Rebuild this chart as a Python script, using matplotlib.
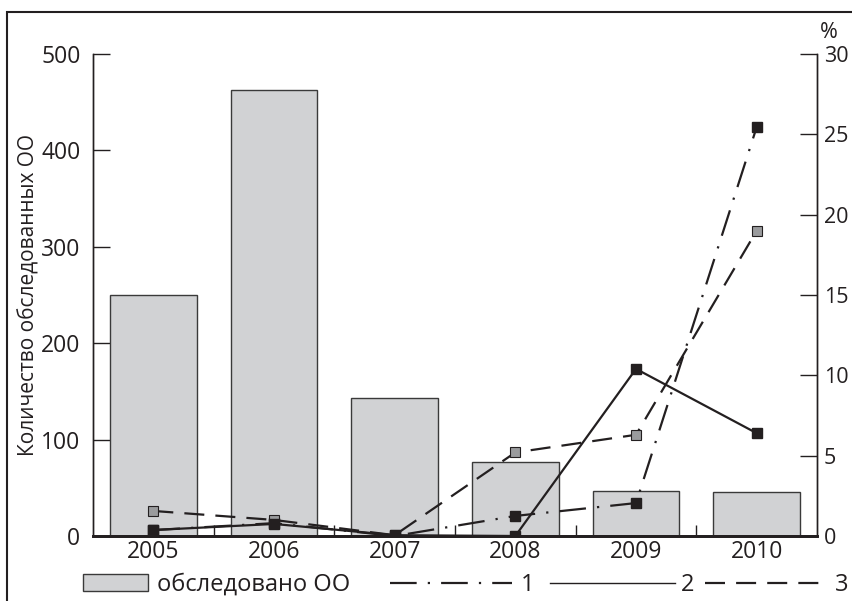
import matplotlib
matplotlib.use("Agg")
import matplotlib.pyplot as plt
import numpy as np
from matplotlib.patches import Rectangle
from matplotlib.lines import Line2D

plt.rcParams['font.family'] = ['Open Sans', 'DejaVu Sans']

years = ['2005', '2006', '2007', '2008', '2009', '2010']
surveyed = [250, 463, 143, 77, 47, 46]
series1 = [0.37, 0.8, 0.0, 1.25, 2.05, 25.45]
series2 = [0.37, 0.75, 0.05, 0.0, 10.4, 6.4]
series3 = [1.56, 1.0, 0.05, 5.2, 6.3, 19.0]
bar_label = 'обследовано ОО'
line_labels = ['1', '2', '3']
ylabel_left = 'Количество обследованных ОО'

FS = 16.5
FS_R = 15.5
FS_LEG = 17
FS_YL = 15
INK = '#231f20'

fig = plt.figure(figsize=(8.52, 6.01), dpi=100)
ax = fig.add_axes([93/852, 1-536/601, (817-93)/852, (536-54)/601])
ax2 = ax.twinx()

x = np.arange(len(years))
bars = ax.bar(x, surveyed, width=0.72, color='#d1d2d4', edgecolor='#3a3a3a', linewidth=1.0, zorder=2)
ax.set_xlim(-0.5, len(years) - 0.5)
ax.set_ylim(0, 500)
ax.set_yticks([0, 100, 200, 300, 400, 500])
ax.set_xticks(x)
ax.set_xticklabels(years, fontsize=FS)
ax.set_xticks(np.arange(0.5, len(years) - 1, 1), minor=True)
ax.tick_params(axis='x', which='major', length=0, pad=3, colors=INK)
ax.tick_params(axis='x', which='minor', direction='in', length=8, width=1.0, color=INK)
ax.tick_params(axis='y', direction='in', length=12, width=1.0, labelsize=FS, pad=9, colors=INK)
ax.set_ylabel(ylabel_left, fontsize=FS_YL, color=INK, labelpad=1)

ax2.set_ylim(0, 30)
ax2.set_yticks([0, 5, 10, 15, 20, 25, 30])
ax2.tick_params(axis='y', direction='in', length=12, width=1.0, labelsize=FS_R, pad=5, colors=INK)

for a in (ax, ax2):
    a.spines['top'].set_visible(False)
    a.spines['left'].set_linewidth(1.0)
    a.spines['right'].set_linewidth(1.0)
    a.spines['bottom'].set_linewidth(2.0)
    for s in a.spines.values():
        s.set_color(INK)

l1, = ax2.plot(x, series1, color=INK, linewidth=1.6, dashes=(12, 5, 1, 5),
               marker='s', markersize=7, markerfacecolor=INK, markeredgecolor=INK, zorder=3)
l2, = ax2.plot(x, series2, color=INK, linewidth=1.6, linestyle='-',
               marker='s', markersize=7, markerfacecolor=INK, markeredgecolor=INK, zorder=4)
l3, = ax2.plot(x, series3, color=INK, linewidth=1.6, dashes=(9, 5),
               marker='s', markersize=7, markerfacecolor='#9a9b9d', markeredgecolor=INK,
               markeredgewidth=0.8, zorder=3)

fig.text(820/852, 1-33/601, '%', fontsize=FS_R, color=INK, ha='left', va='center')

# frame around the figure
fig.add_artist(Rectangle((7/852, -0.1), 1.2, 0.1 + (1 - 12/601), transform=fig.transFigure,
                         fill=False, edgecolor=INK, linewidth=1.5, clip_on=False))

# legends
fsz_px = FS_LEG * 100 / 72.0
ly = 1 - 585/601
def leg(handle, label, x0, hlen_px, pad_px, hh=0.7):
    lg = fig.legend([handle], [label], loc='center left', bbox_to_anchor=(x0/852, ly),
                    frameon=False, borderpad=0, borderaxespad=0, fontsize=FS_LEG,
                    handlelength=hlen_px/fsz_px, handletextpad=pad_px/fsz_px, handleheight=hh)
    for t in lg.get_texts():
        t.set_color(INK)
    return lg

h1 = Line2D([], [], color=INK, linewidth=1.6, dashes=(12, 5, 1, 5))
h2 = Line2D([], [], color=INK, linewidth=1.0, linestyle='-')
h3 = Line2D([], [], color=INK, linewidth=1.6, dashes=(9, 5))
leg(bars, bar_label, 83, 65, 9, hh=0.75)
leg(h1, line_labels[0], 390, 122, 9)
leg(h2, line_labels[1], 550, 125, 6)
leg(h3, line_labels[2], 705, 124, 6)

fig.savefig('out.png', dpi=100)
